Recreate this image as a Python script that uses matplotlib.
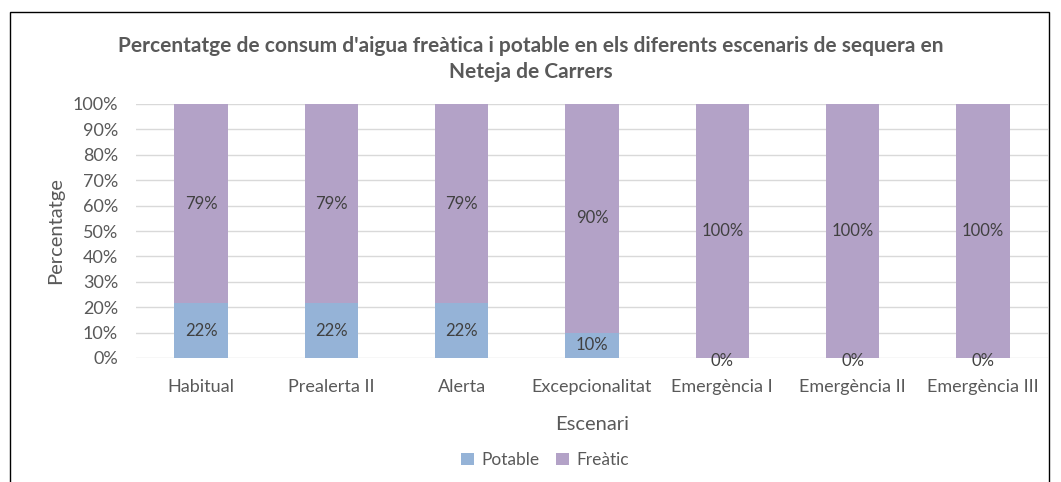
import matplotlib.pyplot as plt
from matplotlib.patches import Rectangle

plt.rcParams['font.family'] = ['Lato', 'DejaVu Sans']

categories = ['Habitual', 'Prealerta II', 'Alerta', 'Excepcionalitat',
              'Emergència I', 'Emergència II', 'Emergència III']
potable = [21.5, 21.5, 21.5, 10, 0, 0, 0]
freatic = [78.5, 78.5, 78.5, 90, 100, 100, 100]
potable_labels = ['22%', '22%', '22%', '10%', '0%', '0%', '0%']
freatic_labels = ['79%', '79%', '79%', '90%', '100%', '100%', '100%']

text_color = '#595959'
c_potable = '#95B3D7'
c_freatic = '#B3A2C7'

fig = plt.figure(figsize=(10.61, 4.82), dpi=100)
ax = fig.add_axes([136 / 1061, 1 - 358 / 482, 912 / 1061, 254 / 482])

# outer chart frame
fig.patches.append(Rectangle((10 / 1061, -0.1), 1039 / 1061, 1.1 - 12 / 482,
                             transform=fig.transFigure, fill=False,
                             edgecolor='black', linewidth=1.0))

x = range(len(categories))
width = 0.41
ax.bar(x, potable, width=width, color=c_potable, label='Potable', zorder=3)
ax.bar(x, freatic, width=width, bottom=potable, color=c_freatic, label='Freàtic', zorder=3)

for i in x:
    ypos = potable[i] / 2 if potable[i] > 0 else -1.2
    ax.text(i, ypos, potable_labels[i], ha='center', va='center',
            fontsize=12, color='#404040', zorder=4, clip_on=False)
    ax.text(i, potable[i] + freatic[i] / 2, freatic_labels[i], ha='center', va='center',
            fontsize=12, color='#404040', zorder=4)

ax.set_xlim(-0.5, len(categories) - 0.5)
ax.set_ylim(0, 100)
ax.set_yticks(range(0, 101, 10))
ax.set_yticklabels([f'{v}%' for v in range(0, 101, 10)])
ax.set_xticks(list(x))
ax.set_xticklabels(categories)
ax.tick_params(axis='both', length=0, labelsize=13, labelcolor=text_color)
ax.tick_params(axis='x', pad=15)
ax.tick_params(axis='y', pad=13)
ax.grid(axis='y', color='#D9D9D9', linewidth=1, zorder=0)
ax.set_axisbelow(True)
for s in ax.spines.values():
    s.set_visible(False)

ax.set_ylabel('Percentatge', fontsize=14.5, color=text_color, labelpad=6)
ax.set_xlabel('Escenari', fontsize=14.5, color=text_color, labelpad=15)

fig.text(0.5, 1 - 46 / 482, "Percentatge de consum d'aigua freàtica i potable en els diferents escenaris de sequera en",
         ha='center', va='center', fontsize=15, fontweight='bold', color=text_color)
fig.text(0.5, 1 - 72 / 482, 'Neteja de Carrers',
         ha='center', va='center', fontsize=15, fontweight='bold', color=text_color)

fig.legend(loc='center', bbox_to_anchor=(545 / 1061, 1 - 460 / 482), ncol=2,
           frameon=False, fontsize=12.5, labelcolor=text_color,
           handlelength=0.75, handleheight=0.75, handletextpad=0.4, columnspacing=1.0)

fig.savefig('out.png', dpi=100)
